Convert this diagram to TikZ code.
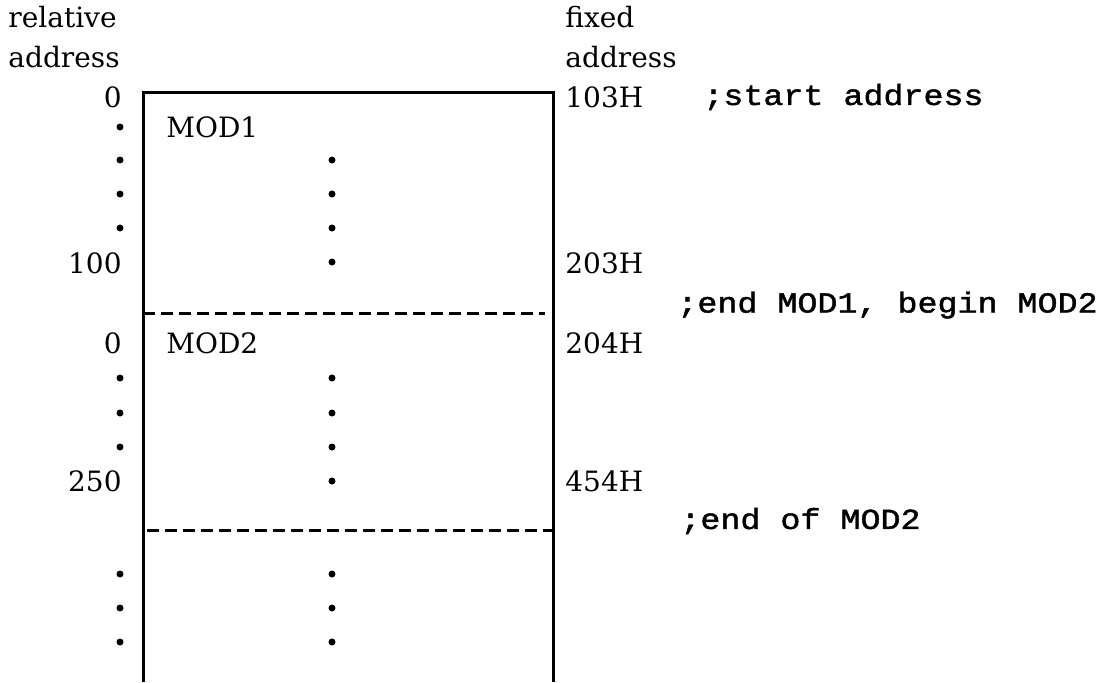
\documentclass[tikz,border=0pt]{standalone}
\usepackage{fontspec}
\setmainfont{DejaVu Serif}
\newfontfamily\codefont[FakeStretch=1.15, FakeBold=1.5]{Liberation Mono}

\begin{document}
\begin{tikzpicture}[x=0.5pt, y=-0.5pt,
		lbl/.style={inner sep=0pt, font=\fontsize{14}{16}\selectfont},
		rlbl/.style={lbl, anchor=east},
		flbl/.style={lbl, anchor=west},
		cmt/.style={inner sep=0pt, anchor=west, font=\fontsize{14.5}{16}\codefont},
		sep/.style={line width=1.5pt, dash pattern=on 6pt off 3pt}]
		\def\L{143};
		\def\R{553};
		\def\T{92};
		\def\B{682};
		\def\dl{120};
		\def\dm{332};
		
		\useasboundingbox (0,0) rectangle (1102,682);
		
		\draw [line width=1.5pt] (\L,\B) -- (\L,\T) -- (\R,\T) -- (\R,\B);
		\begin{scope}[sep]
			\draw (\L,313) -- (545,313);
			\draw (147,530) -- (\R,530);
		\end{scope}
		
		% relative addresses
		\node (relA) [flbl] at (8,17) {relative};
		\node (relB) [flbl] at (8,57) {address};
		\node (rel0) [rlbl] at (122,97) {0};
		\node (rel100) [rlbl] at (122,263) {100};
		\node (rel0b) [rlbl] at (122,343) {0};
		\node (rel250) [rlbl] at (122,481) {250};
		
		\node (mod1) [flbl] at (166,127) {MOD1};
		\node (mod2) [flbl] at (166,343) {MOD2};
		
		% fixed addresses
		\node (fixA) [flbl] at (565,17) {fixed};
		\node (fixB) [flbl] at (565,57) {address};
		\node (fix103) [flbl] at (565,97) {103H};
		\node (fix203) [flbl] at (565,263) {203H};
		\node (fix204) [flbl] at (565,343) {204H};
		\node (fix454) [flbl] at (565,481) {454H};
		
		\node (cmtA) [cmt] at (703,97) {;start address};
		\node (cmtB) [cmt] at (677,305) {;end MOD1, begin MOD2};
		\node (cmtC) [cmt] at (680,521) {;end of MOD2};
		
		\foreach \y in {127,160,194,228,378,413,447,574,608,642}
			\fill (\dl,\y) circle (1.75pt);
		\foreach \y in {160,194,228,262,378,413,447,481,574,608,642}
			\fill (\dm,\y) circle (1.75pt);
	\end{tikzpicture}
\end{document}
